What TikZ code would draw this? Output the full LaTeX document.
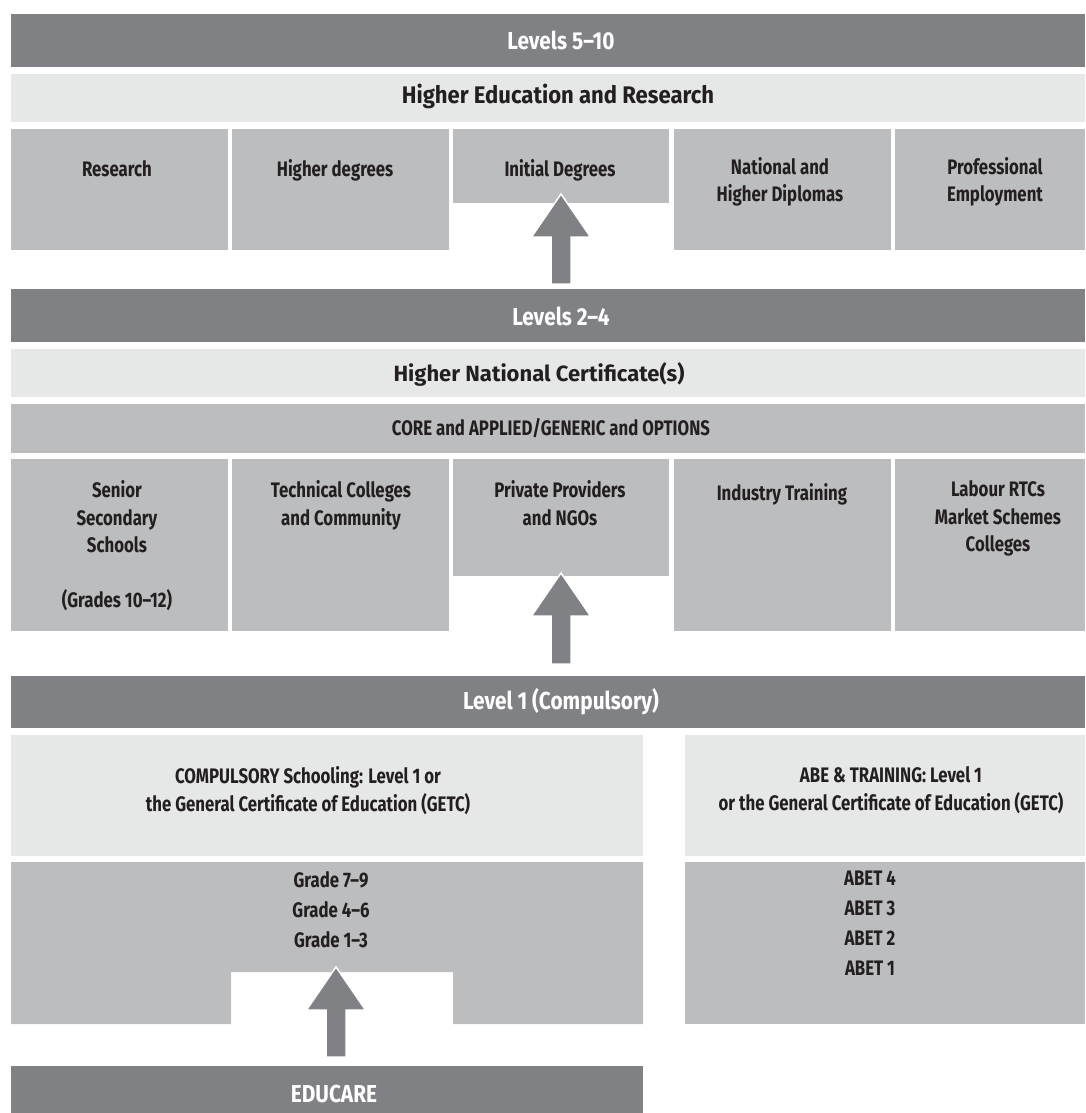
\documentclass[tikz,border=0pt]{standalone}
\usepackage{fontspec}
\usetikzlibrary{calc}
\setmainfont{Fira Sans}
\newfontfamily\condf[FakeStretch=0.8]{Fira Sans}
\newfontfamily\barf[FakeStretch=0.85]{Fira Sans}
\newfontfamily\widef[FakeStretch=0.92]{Fira Sans}
\newfontfamily\plainf{Fira Sans}
\definecolor{darkg}{HTML}{808185}
\definecolor{lightg}{HTML}{E6E7E7}
\definecolor{midg}{HTML}{BCBDBF}
\definecolor{inkc}{HTML}{231F20}
\newcommand{\myfnt}[1]{\condf\bfseries\fontsize{21}{#1}\selectfont}
\begin{document}
\begin{tikzpicture}[x=1pt,y=-1pt,
  cell/.style={inner sep=0pt, outer sep=0pt, anchor=north west, draw=none},
  darkbar/.style={cell, fill=darkg},
  lightbar/.style={cell, fill=lightg},
  midbox/.style={cell, fill=midg},
  bartext/.style={inner sep=0pt, anchor=base, text=white, font=\barf\bfseries\fontsize{24.5}{30}\selectfont},
  subtext/.style={inner sep=0pt, anchor=base, text=inkc},
  boxtext/.style={inner sep=0pt, anchor=north, align=center, text=inkc, execute at begin node=\strut},
  blockarrow/.style={fill=darkg, draw=white, line width=1.5pt, line join=miter}
]
\useasboundingbox (0,0) rectangle (1085,1113);

% ---------- Levels 5-10 ----------
\node[darkbar, minimum width=1074pt, minimum height=53pt] (bar510) at (11,14) {};
\node[bartext] (bar510t) at (561,49.5) {Levels 5–10};
\node[lightbar, minimum width=1074pt, minimum height=48pt] (her) at (11,74) {};
\node[subtext, font=\widef\bfseries\fontsize{24}{30}\selectfont] (hert) at (558,104) {Higher Education and Research};

\node[midbox, minimum width=217pt, minimum height=121pt] (res) at (11,129) {};
\node[midbox, minimum width=217pt, minimum height=121pt] (hdeg) at (232,129) {};
\node[midbox, minimum width=216pt, minimum height=74pt] (ideg) at (453,129) {};
\node[midbox, minimum width=217pt, minimum height=121pt] (ndip) at (674,129) {};
\node[midbox, minimum width=190pt, minimum height=121pt] (pemp) at (895,129) {};

\node[boxtext, font=\myfnt{26.5}] (rest) at (117,157.45) {Research};
\node[boxtext, font=\myfnt{26.5}] (hdegt) at (335,157.45) {Higher degrees};
\node[boxtext, font=\myfnt{26.5}] (idegt) at (560,157.45) {Initial Degrees};
\node[boxtext, font=\myfnt{26.5}] (ndipt) at (780,157.45) {National and\\Higher Diplomas};
\node[boxtext, font=\myfnt{26.5}] (pempt) at (995,157.45) {Professional\\Employment};

% ---------- Levels 2-4 ----------
\node[darkbar, minimum width=1074pt, minimum height=53pt] (bar24) at (11,289) {};
\node[bartext] (bar24t) at (561,325) {Levels 2–4};
\node[lightbar, minimum width=1074pt, minimum height=48pt] (hnc) at (11,349) {};
\node[subtext, font=\plainf\bfseries\fontsize{22}{28}\selectfont] (hnct) at (539,381) {Higher National Certificate(s)};
\node[midbox, minimum width=1074pt, minimum height=49pt] (core) at (11,404) {};
\node[subtext, font=\myfnt{27}] (coret) at (551,435.5) {CORE and APPLIED/GENERIC and OPTIONS};

\node[midbox, minimum width=217pt, minimum height=172pt] (sss) at (11,459) {};
\node[midbox, minimum width=217pt, minimum height=172pt] (tcc) at (232,459) {};
\node[midbox, minimum width=216pt, minimum height=117pt] (ppn) at (453,459) {};
\node[midbox, minimum width=217pt, minimum height=172pt] (ind) at (674,459) {};
\node[midbox, minimum width=190pt, minimum height=172pt] (lab) at (895,459) {};

\node[boxtext, font=\myfnt{27.5}] (ssst) at (117,480.75) {Senior\\Secondary\\Schools\\[27.5pt](Grades 10–12)};
\node[boxtext, font=\myfnt{27.5}] (tcct) at (341,480.75) {Technical Colleges\\and Community};
\node[boxtext, font=\myfnt{27.5}] (ppnt) at (560,480.75) {Private Providers\\and NGOs};
\node[boxtext, font=\myfnt{27.5}] (indt) at (782,480.75) {Industry Training};
\node[boxtext, font=\myfnt{27.5}] (labt) at (998,480.75) {Labour RTCs\\Market Schemes\\Colleges};

% ---------- Level 1 ----------
\node[darkbar, minimum width=1074pt, minimum height=52pt] (bar1) at (11,676) {};
\node[bartext] (bar1t) at (561,709) {Level 1 (Compulsory)};

\node[lightbar, minimum width=632pt, minimum height=121pt] (comp) at (11,735) {};
\node[lightbar, minimum width=400pt, minimum height=121pt] (abe) at (685,735) {};
\node[boxtext, font=\myfnt{28}] (compt) at (308,766.4) {COMPULSORY Schooling: Level 1 or\\the General Certificate of Education (GETC)};
\node[boxtext, font=\myfnt{28}] (abet) at (891,766.4) {ABE \& TRAINING: Level 1\\or the General Certificate of Education (GETC)};

\fill[midg] (11,862) -| (643,1024) -| (453,972) -| (231,1024) -| cycle;
\coordinate (grades) at (327,862);
\node[midbox, minimum width=400pt, minimum height=162pt] (abetbox) at (685,862) {};
\node[boxtext, font=\myfnt{30}] (gradest) at (331,871) {Grade 7–9\\Grade 4–6\\Grade 1–3};
\node[boxtext, font=\myfnt{30}] (abetlist) at (870,871) {ABET 4\\ABET 3\\ABET 2\\ABET 1};

% ---------- EDUCARE ----------
\node[darkbar, minimum width=632pt, minimum height=47pt] (educ) at (11,1066) {};
\node[bartext] (educt) at (334,1102) {EDUCARE};

% ---------- block arrows ----------
\newcommand{\upblock}[4]{% name, x, tip y, bottom y
  \coordinate (#1-tip) at (#2,#3);
  \coordinate (#1-foot) at (#2,#4);
  \draw[blockarrow] ($(#1-foot)+(-10,0)$) -- ($(#1-tip)+(-10,43)$) -- ($(#1-tip)+(-29.5,43)$)
     -- (#1-tip) -- ($(#1-tip)+(29.5,43)$) -- ($(#1-tip)+(10,43)$) -- ($(#1-foot)+(10,0)$) -- cycle;}
\upblock{arrA}{561}{194}{284}
\upblock{arrB}{561}{573}{664}
\upblock{arrC}{336}{967}{1057}
\end{tikzpicture}
\end{document}
